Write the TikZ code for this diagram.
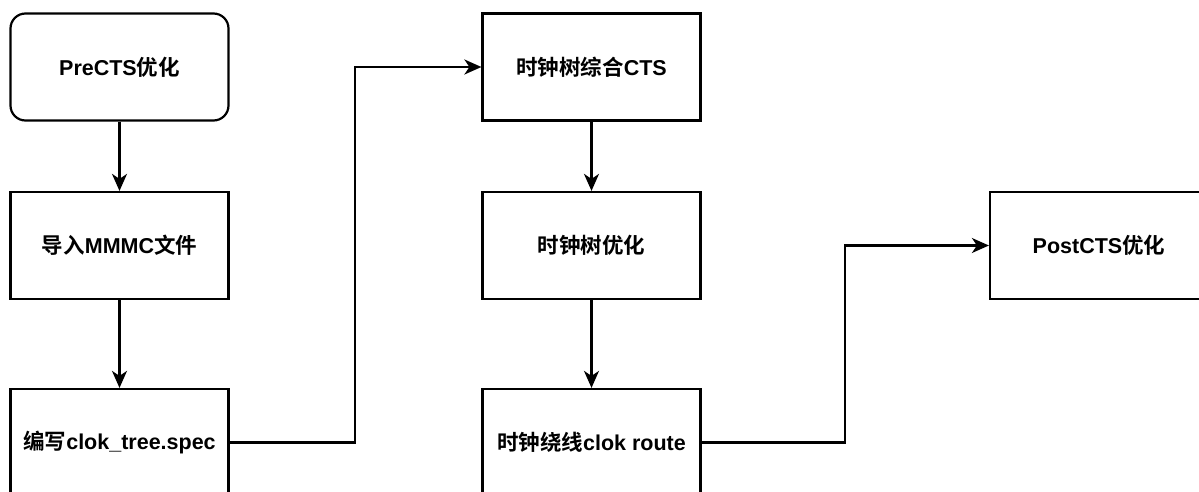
\documentclass[tikz,border=0pt]{standalone}
\usepackage{fontspec}
\setmainfont{Liberation Sans}
\newfontfamily\cjk{Noto Sans CJK SC}[BoldFont={Noto Sans CJK SC Bold}]
\usetikzlibrary{arrows.meta}
\tikzset{
  box/.style={draw=black, line width=2.2pt, fill=white, minimum width=218pt, minimum height=107pt, inner sep=0pt,
    font=\fontsize{21.5}{26}\selectfont\bfseries},
  rbox/.style={box, rounded corners=15pt},
  arr/.style={draw=black, line width=2.2pt, -{Stealth[length=17pt,width=15pt,inset=5pt]}},
}
\begin{document}
\begin{tikzpicture}[x=1pt,y=-1pt]
\clip (0,0) rectangle (1199,492);
\fill[white] (0,0) rectangle (1199,492);
\node[rbox] (pre) at (119.5,67) {Pre\-CTS{\cjk 优化}};
\node[box] (mmmc) at (119.5,245.5) {{\cjk 导入}MMMC{\cjk 文件}};
\node[box] (spec) at (119.5,442.5) {{\cjk 编写}clok\_tree.spec};
\node[box] (cts) at (591.5,67) {{\cjk 时钟树综合}CTS};
\node[box] (opt) at (591.5,245.5) {{\cjk 时钟树优化}};
\node[box] (route) at (591.5,442.5) {{\cjk 时钟绕线}clok route};
\node[box] (post) at (1099,245.5) {PostCTS{\cjk 优化}};
\coordinate (e1) at (355,0);
\coordinate (e2) at (845,0);
\draw[arr] (pre) -- (mmmc);
\draw[arr] (mmmc) -- (spec);
\draw[arr] (cts) -- (opt);
\draw[arr] (opt) -- (route);
\draw[arr] (spec.east) -- (spec.east -| e1) |- (cts.west);
\draw[arr] (route.east) -- (route.east -| e2) |- (post.west);
\end{tikzpicture}
\end{document}
